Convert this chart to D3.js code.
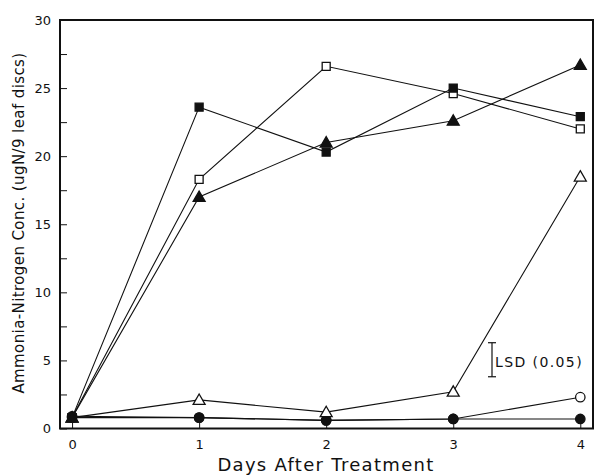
<!doctype html>
<html lang="en">
<head>
<meta charset="UTF-8">
<title>ammonia</title>
<script src="https://d3js.org/d3.v7.min.js"></script>
<style>
  body { margin: 0; background: #fff; }
  text { font-family: "DejaVu Sans", sans-serif; fill: #111; }
</style>
</head>
<body>
<div class="canvas"></div>
<script>
  // days after treatment
  const days = [0, 1, 2, 3, 4];
  // series values
  const filledSquare = [0.8, 23.6, 20.3, 25.0, 22.9];
  const openSquare = [0.8, 18.3, 26.6, 24.6, 22.0];
  const filledTriangle = [0.8, 17.0, 21.0, 22.6, 26.7];
  const openTriangle = [0.8, 2.1, 1.2, 2.7, 18.5];
  const openCircle = [0.8, 0.8, 0.6, 0.7, 2.3];
  const filledCircle = [0.9, 0.8, 0.6, 0.7, 0.7];
  const yTicks = [0, 5, 10, 15, 20, 25, 30];
  const lsd = [3.8, 6.3];

  const W = 594, H = 475;
  const m = {left: 60, right: 1, top: 20, bottom: 47};

  const svg = d3.select('.canvas').append('svg')
    .attr('width', W).attr('height', H);

  const x = d3.scaleLinear().domain([-0.095, 4.1]).range([m.left, W - m.right]);
  const y = d3.scaleLinear().domain([0, 30]).range([H - m.bottom + 0.5, m.top]);

  // axes with inward ticks
  const yAx = svg.append('g')
    .attr('transform', `translate(${m.left},0)`)
    .call(d3.axisRight(y).tickValues(d3.range(0, 30.1, 2.5)).tickSize(7)
      .tickFormat(d => yTicks.includes(d) ? d : ''));
  yAx.select('.domain').remove();
  yAx.selectAll('text').attr('x', -9).attr('text-anchor', 'end').attr('font-size', 13);
  yAx.selectAll('line').attr('stroke', '#111');

  const xAx = svg.append('g')
    .attr('transform', `translate(0,${y(0)})`)
    .call(d3.axisTop(x).tickValues(days).tickSize(8).tickFormat(d3.format('d')));
  xAx.select('.domain').remove();
  xAx.selectAll('text').attr('y', 20).attr('font-size', 13);
  xAx.selectAll('line').attr('stroke', '#111');

  // frame
  svg.append('rect')
    .attr('x', m.left).attr('y', m.top)
    .attr('width', W - m.right - m.left).attr('height', y(0) - m.top)
    .attr('fill', 'none').attr('stroke', '#111').attr('stroke-width', 2);

  const line = d3.line().x((d, i) => x(days[i])).y(d => y(d));

  const series = [
    {v: openCircle, shape: 'circle', fill: false},
    {v: filledCircle, shape: 'circle', fill: true},
    {v: openTriangle, shape: 'triangle', fill: false},
    {v: openSquare, shape: 'square', fill: false},
    {v: filledSquare, shape: 'square', fill: true},
    {v: filledTriangle, shape: 'triangle', fill: true}
  ];

  const sym = {
    circle: d3.symbol(d3.symbolCircle, 70),
    square: d3.symbol(d3.symbolSquare, 64),
    triangle: d3.symbol(d3.symbolTriangle, 62)
  };

  series.forEach(s => {
    svg.append('path').datum(s.v)
      .attr('d', line)
      .attr('fill', 'none').attr('stroke', '#111').attr('stroke-width', 1.1);
  });
  series.forEach(s => {
    svg.append('g').selectAll('path').data(s.v).join('path')
      .attr('d', sym[s.shape])
      .attr('transform', (d, i) => `translate(${x(days[i])},${y(d) + (s.shape === 'triangle' ? 1 : 0)})`)
      .attr('fill', s.fill ? '#111' : '#fff')
      .attr('stroke', '#111').attr('stroke-width', 1.3);
  });

  // LSD bar
  const lx = 492;
  const lsdG = svg.append('g').attr('stroke', '#111').attr('stroke-width', 1.2);
  lsdG.append('line').attr('x1', lx).attr('x2', lx).attr('y1', y(lsd[0])).attr('y2', y(lsd[1]));
  lsd.forEach(v => lsdG.append('line').attr('x1', lx - 4).attr('x2', lx + 4).attr('y1', y(v)).attr('y2', y(v)));
  svg.append('text').attr('x', lx + 3).attr('y', y((lsd[0] + lsd[1]) / 2) + 7)
    .attr('font-size', 14).attr('letter-spacing', 1.4).text('LSD (0.05)');

  // titles
  svg.append('text').attr('x', 326).attr('y', 471).attr('text-anchor', 'middle')
    .attr('font-size', 18).attr('letter-spacing', 1.3).text('Days After Treatment');
  svg.append('text')
    .attr('transform', `translate(24,223) rotate(-90)`)
    .attr('text-anchor', 'middle').attr('font-size', 15).attr('letter-spacing', 0.4)
    .text('Ammonia-Nitrogen Conc. (ugN/9 leaf discs)');
</script>
</body>
</html>
